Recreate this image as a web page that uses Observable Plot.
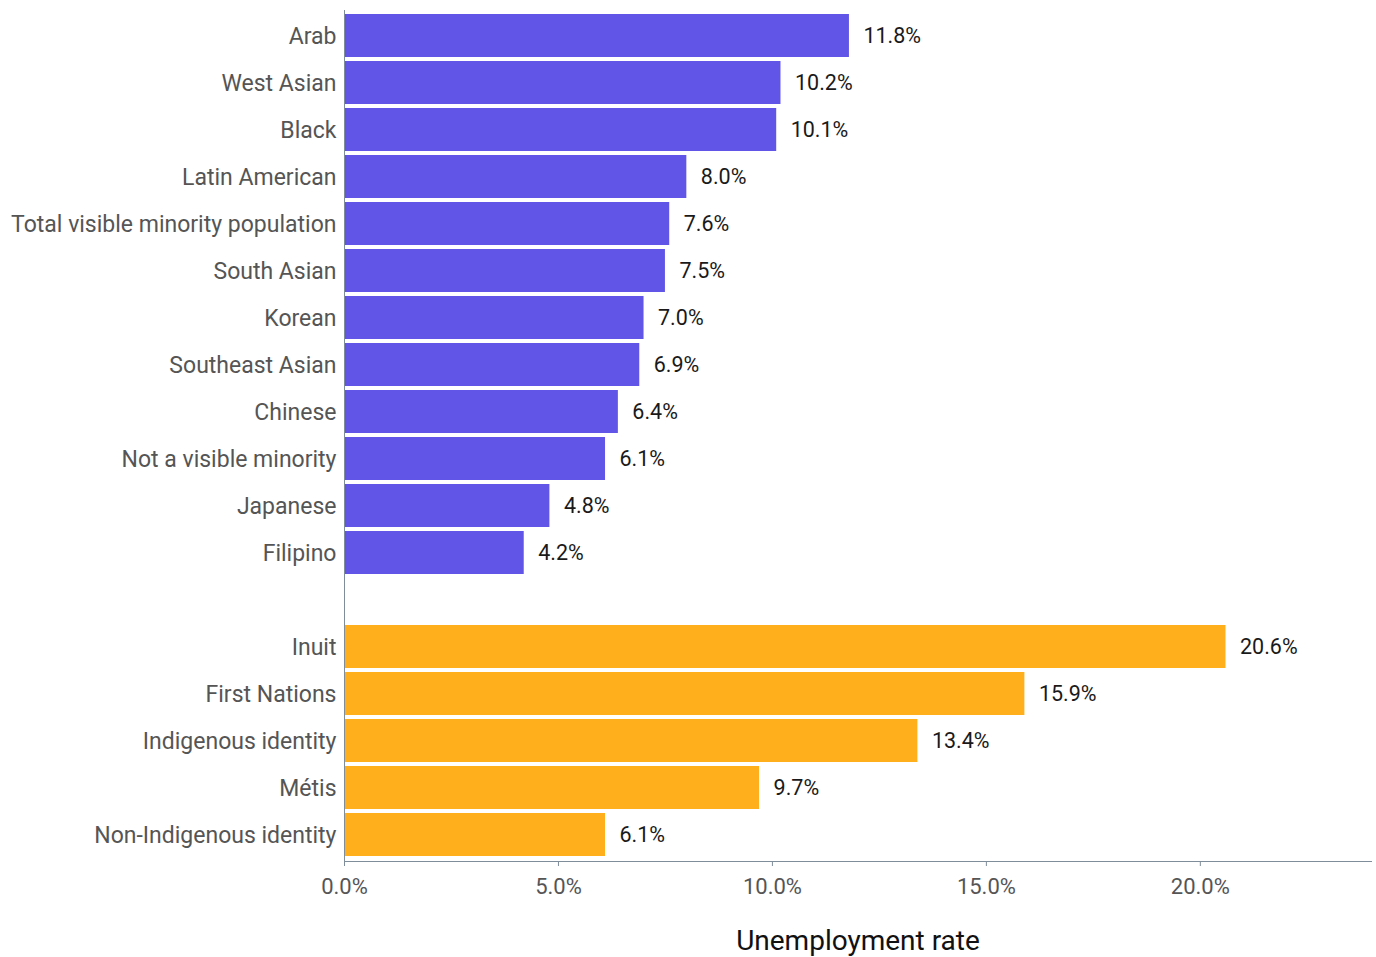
<!DOCTYPE html>
<html><head><meta charset="utf-8">
<script src="https://cdn.jsdelivr.net/npm/d3@7"></script>
<script src="https://cdn.jsdelivr.net/npm/@observablehq/plot@0.6"></script>
<style>
body{margin:0;background:#fff;font-family:Roboto,sans-serif;}
</style></head><body><div id="chart"></div>
<script>
const visibleCategories = ["Arab","West Asian","Black","Latin American","Total visible minority population","South Asian","Korean","Southeast Asian","Chinese","Not a visible minority","Japanese","Filipino"];
const visibleValues = [11.8,10.2,10.1,8.0,7.6,7.5,7.0,6.9,6.4,6.1,4.8,4.2];
const indigenousCategories = ["Inuit","First Nations","Indigenous identity","Métis","Non-Indigenous identity"];
const indigenousValues = [20.6,15.9,13.4,9.7,6.1];
const xTicks = [0,5,10,15,20];
const gapLabel = " ";

const data = [
  ...visibleCategories.map((c,i)=>({category:c, value:visibleValues[i], group:"visible"})),
  ...indigenousCategories.map((c,i)=>({category:c, value:indigenousValues[i], group:"indigenous"}))
];
const domain = [...visibleCategories, gapLabel, ...indigenousCategories];
const fmt = d => d.toFixed(1) + "%";

const chart = Plot.plot({
  width: 1376,
  height: 957,
  marginLeft: 344,
  marginRight: 5,
  marginTop: 10,
  marginBottom: 96,
  style: {fontFamily: "Roboto, sans-serif", background: "#fff"},
  x: {domain: [0, 24], label: null},
  y: {domain, padding: 0.085, label: null},
  color: {domain: ["visible","indigenous"], range: ["#6055E6","#FFAF1B"]},
  marks: [
    Plot.barX(data, {y: "category", x: "value", fill: "group", insetLeft: 1}),
    Plot.text(data, {y: "category", x: "value", text: d => fmt(d.value), textAnchor: "start", dx: 14, dy: 0.5, fontSize: 21.5, fill: "#1a1a1a"}),
    Plot.axisY({tickSize: 0, tickPadding: 8, fontSize: 23, color: "#555", label: null, dy: 1}),
    Plot.axisX({ticks: xTicks, tickFormat: fmt, tickSize: 5, tickPadding: 12, fontSize: 22, color: "#555", stroke: "#7f8c99", label: "Unemployment rate", labelAnchor: "center", labelArrow: "none", labelOffset: 88}),
    Plot.frame({anchor: "bottom", stroke: "#7f8c99"}),
    Plot.frame({anchor: "left", stroke: "#7f8c99"})
  ]
});
chart.querySelectorAll("g[aria-label='x-axis label'] text").forEach(t => {t.setAttribute("font-size", "28"); t.setAttribute("fill", "#111");});
document.getElementById("chart").appendChild(chart);
</script></body></html>
